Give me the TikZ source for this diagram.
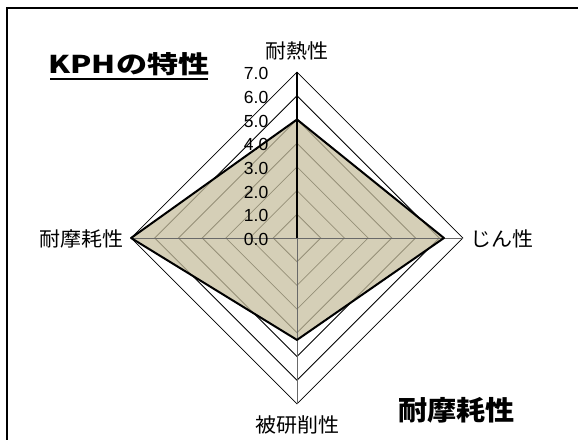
\documentclass[tikz,border=0pt]{standalone}
\usepackage{fontspec}
\usepackage{graphicx}
\setmainfont{Liberation Sans}
\newfontfamily\jp{Noto Sans CJK JP}
\definecolor{tanfill}{RGB}{200,192,160}
\definecolor{spokegray}{RGB}{105,105,105}
\tikzset{
  ring/.style={draw=black, line width=0.8pt},
  spoke/.style={draw=spokegray, line width=1pt},
  vaxis/.style={draw=black, line width=1.4pt},
  dataline/.style={draw=black, line width=2pt, line join=round},
  datafill/.style={fill=tanfill, fill opacity=0.75},
  num/.style={font=\fontsize{17.5}{20}\selectfont, inner sep=0pt, anchor=east},
  axlabel/.style={font=\jp\fontsize{20}{24}\selectfont, inner sep=0pt},
}
\begin{document}
\begin{tikzpicture}[x=1pt,y=-1pt]
\useasboundingbox (0,0) rectangle (578,439);
\clip (0,0) rectangle (578,439);
\fill[white] (0,0) rectangle (578,439);
% outer frame (partly outside the picture)
\draw[line width=2pt] (7,470) -- (7,8.3) -- (610,8.3);
\begin{scope}[shift={(297,238)}, x=23.7pt, y=-23.7pt]
  \foreach \k in {1,...,7}
    \draw[ring] (0,\k) -- (\k,0) -- (0,-\k) -- (-\k,0) -- cycle;
  \fill[datafill] (0,-5) -- (6.2,0) -- (0,4.3) -- (-7,0) -- cycle;
  \draw[spoke] (0,0) -- (7,0);
  \draw[spoke] (0,0) -- (-7,0);
  \draw[spoke] (0,0) -- (0,7);
  \draw[vaxis] (0,0) -- (0,-7);
  \draw[dataline] (0,-5) -- (6.2,0) -- (0,4.3) -- (-7,0) -- cycle;
\end{scope}
\foreach \k in {0,...,7}
  \node[num] (n\k) at (268.5,{239.5-\k*23.7}) {\k.0};
\node[axlabel] (top) at (297,51) {\scalebox{1.05}[1]{耐熱性}};
\node[axlabel, anchor=west] (right) at (470.5,238.5) {\scalebox{1.05}[1]{じん性}};
\node[axlabel] (bottom) at (297,425) {\scalebox{1.05}[1]{被研削性}};
\node[axlabel, anchor=east] (left) at (124,239) {\scalebox{1.05}[1]{耐摩耗性}};
\node[font=\jp\bfseries\fontsize{24.5}{28}\selectfont, inner sep=0pt] (title) at (129,64) {\scalebox{1.27}[1]{KPHの特性}};
\draw[line width=2pt] (50,79) -- (208,79);
\node[font=\jp\bfseries\fontsize{27}{32}\selectfont, inner sep=0pt] (note) at (456.5,410) {\scalebox{1.08}[1]{耐摩耗性}};
\end{tikzpicture}
\end{document}
